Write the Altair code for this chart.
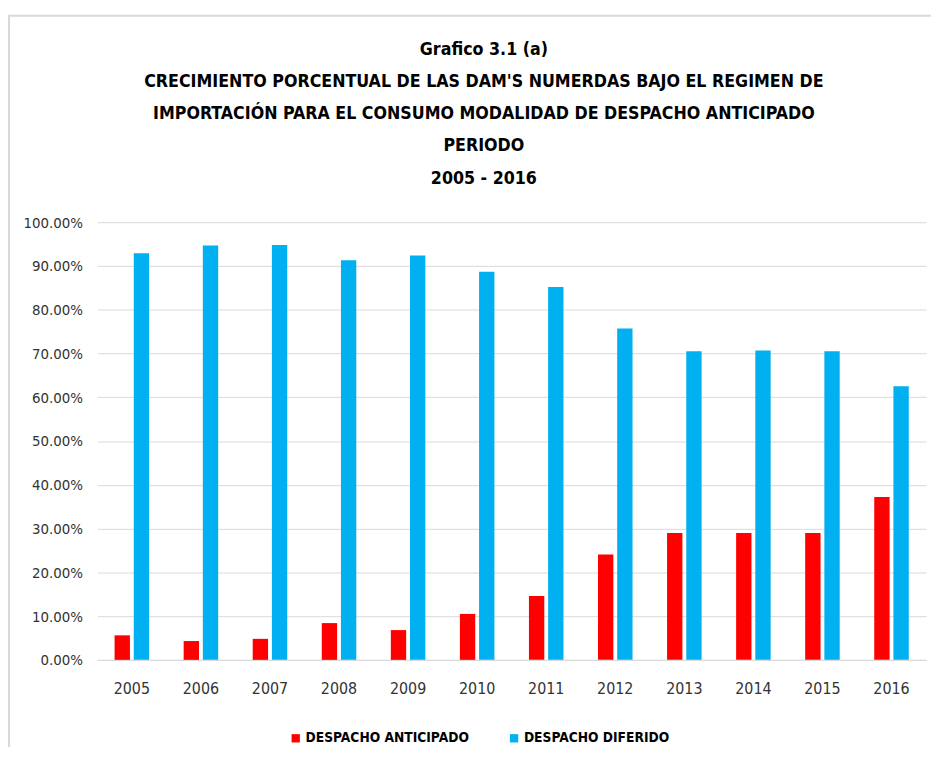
import altair as alt
import pandas as pd

years = ["2005", "2006", "2007", "2008", "2009", "2010", "2011", "2012", "2013", "2014", "2015", "2016"]
anticipado = [5.6, 4.3, 4.8, 8.4, 6.8, 10.5, 14.6, 24.1, 29.0, 29.0, 29.0, 37.2]
diferido = [92.9, 94.7, 94.8, 91.3, 92.4, 88.7, 85.2, 75.7, 70.5, 70.7, 70.5, 62.5]
series_names = ["DESPACHO ANTICIPADO", "DESPACHO DIFERIDO"]
series_colors = ["#FF0000", "#00B0F0"]
y_ticks = [0, 10, 20, 30, 40, 50, 60, 70, 80, 90, 100]
title_lines = [
    "Grafico 3.1 (a)",
    "CRECIMIENTO PORCENTUAL DE LAS DAM'S NUMERDAS BAJO EL REGIMEN DE",
    "IMPORTACIÓN PARA EL CONSUMO MODALIDAD DE DESPACHO ANTICIPADO",
    "PERIODO",
    "2005 - 2016",
]

rows = []
for i, yr in enumerate(years):
    rows.append({"year": yr, "serie": series_names[0], "value": anticipado[i]})
    rows.append({"year": yr, "serie": series_names[1], "value": diferido[i]})
df = pd.DataFrame(rows)

FONT = "DejaVu Sans Condensed, sans-serif"

W, H = 835, 441

frame = alt.Chart(alt.Data(values=[{}])).mark_rect(
    fillOpacity=0, stroke="#d9d9d9", strokeWidth=2
).encode(
    x=alt.value(-89), x2=alt.value(W + 40),
    y=alt.value(-208), y2=alt.value(H + 120),
)

bars = alt.Chart(df).mark_bar().encode(
    x=alt.X("year:N", sort=years,
            scale=alt.Scale(paddingInner=0.5, paddingOuter=0.25),
            axis=alt.Axis(title=None, labelAngle=0, ticks=False, grid=False,
                          domain=True, domainColor="#d9d9d9", domainWidth=1,
                          labelFont=FONT, labelFontSize=16, labelColor="#333333",
                          labelPadding=21)),
    xOffset=alt.XOffset("serie:N", sort=series_names,
                        scale=alt.Scale(paddingInner=0.2, paddingOuter=0)),
    y=alt.Y("value:Q", scale=alt.Scale(domain=[0, 100], nice=False),
            axis=alt.Axis(title=None, values=y_ticks, domain=False, ticks=False,
                          grid=True, gridColor="#d9d9d9", gridWidth=1,
                          labelFont=FONT, labelFontSize=15, labelColor="#333333",
                          labelPadding=15,
                          labelExpr="format(datum.value, '.2f') + '%'")),
    color=alt.Color("serie:N", sort=series_names,
                    scale=alt.Scale(domain=series_names, range=series_colors),
                    legend=alt.Legend(title=None, orient="none", direction="horizontal",
                                      legendX=193, legendY=513,
                                      symbolType="square", symbolSize=70,
                                      symbolStrokeWidth=0, labelLimit=400,
                                      labelFont=FONT, labelFontSize=13.8,
                                      labelFontWeight="bold", labelColor="#000000",
                                      columnPadding=38, labelOffset=3)),
)

chart = alt.layer(frame, bars).properties(
    width=W, height=H,
    title=alt.TitleParams(text=title_lines, font=FONT, fontSize=17.8, fontWeight="bold",
                          color="#000000", lineHeight=32.5, anchor="middle",
                          frame="group", dx=-28, offset=-174),
    autosize=alt.AutoSizeParams(type="none"),
    padding={"left": 90, "top": 213, "right": 5, "bottom": 85},
).configure_view(stroke=None)

chart.save("out.html", embed_options={"renderer": "svg", "actions": False})
